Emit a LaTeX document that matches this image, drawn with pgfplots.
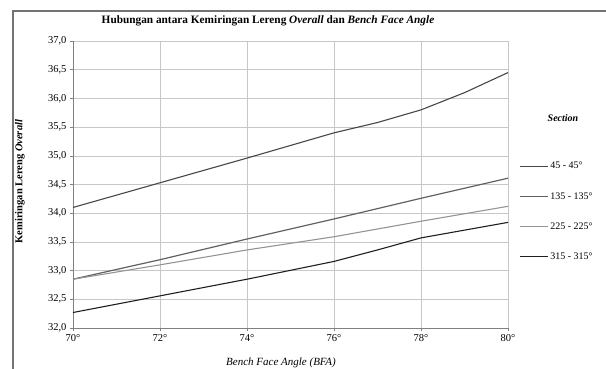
\documentclass[border=0pt]{standalone}
\usepackage{fontspec}
\setmainfont{Liberation Serif}
\usepackage{pgfplots}
\pgfplotsset{compat=1.18}
\begin{document}
\begin{tikzpicture}[x=1pt,y=1pt]
\useasboundingbox (-73,-40) rectangle (533,328);
\draw[black!55, line width=1.5pt] (-60,-45) -- (-60,317) -- (540,317);
\begin{axis}[at={(0,0)}, anchor=south west, scale only axis,
  width=435pt, height=287pt,
  xmin=70, xmax=80, ymin=32, ymax=37,
  xtick={70,72,74,76,78,80},
  ytick={32,32.5,33,33.5,34,34.5,35,35.5,36,36.5,37},
  xticklabel={\pgfmathprintnumber{\tick}°},
  /pgf/number format/assume math mode=true,
  yticklabel style={/pgf/number format/.cd, fixed, fixed zerofill, precision=1, use comma},
  ticklabel style={font=\fontsize{10.5}{12}\selectfont},
  axis lines*=left,
  axis line style={black!50, line width=0.8pt},
  tick style={black!50, line width=0.6pt},
  tick align=outside, major tick length=3pt,
  grid=major,
  grid style={black!22, line width=0.6pt},
  xlabel={\textit{Bench Face Angle} (BFA)},
  xlabel style={font=\fontsize{11}{13}\selectfont\itshape, at={(axis description cs:0.478,0)}, anchor=north, yshift=-26pt},
  ylabel={\textbf{Kemiringan Lereng \textit{Overall}}},
  ylabel style={font=\fontsize{10.5}{12}\selectfont, at={(axis description cs:-0.122,0.51)}, anchor=center},
  legend style={at={(1.025,0.585)}, anchor=north west, draw=none, fill=none,
    font=\fontsize{10}{12}\selectfont, row sep=18pt, inner sep=0pt},
  legend cell align=left,
  every axis plot/.append style={legend image code/.code={\draw[#1] (0pt,0pt) -- (28pt,0pt);}},
  clip=false,
]
\addplot[black!72, line width=1.1pt] coordinates {(70,34.10) (72,34.53) (74,34.96) (76,35.40) (77,35.58) (78,35.80) (79,36.10) (80,36.45)};
\addlegendentry{45 - 45°}
\addplot[black!62, line width=1.2pt] coordinates {(70,32.85) (72,33.19) (74,33.55) (76,33.90) (78,34.26) (80,34.61)};
\addlegendentry{135 - 135°}
\addplot[black!42, line width=1.1pt] coordinates {(70,32.85) (72,33.10) (74,33.36) (76,33.59) (78,33.86) (80,34.12)};
\addlegendentry{225 - 225°}
\addplot[black!88, line width=1.1pt] coordinates {(70,32.27) (72,32.56) (74,32.85) (76,33.16) (77,33.36) (78,33.57) (80,33.84)};
\addlegendentry{315 - 315°}
\end{axis}
\node[font=\fontsize{11.3}{13}\selectfont\bfseries] at (195,307) {Hubungan antara Kemiringan Lereng \textit{Overall} dan \textit{Bench Face Angle}};
\node[font=\fontsize{10}{12}\selectfont\bfseries\itshape] at (490,210) {Section};
\end{tikzpicture}
\end{document}
